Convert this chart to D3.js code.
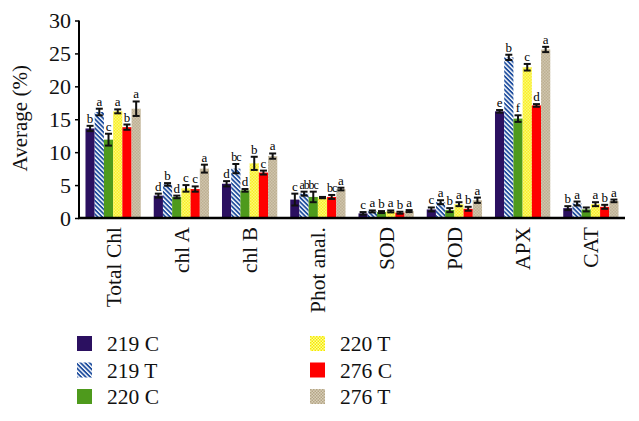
<!DOCTYPE html>
<html>
<head>
<meta charset="utf-8">
<script src="https://cdn.jsdelivr.net/npm/d3@7"></script>
<style>
  body { margin: 0; background: #fff; }
  svg { display: block; font-family: "Liberation Serif", "DejaVu Serif", serif; }
</style>
</head>
<body>
<svg id="chart" width="639" height="421"></svg>
<script>
const categories = ['Total Chl', 'chl A', 'chl B', 'Phot anal.', 'SOD', 'POD', 'APX', 'CAT'];
const seriesNames = ['219 C', '219 T', '220 C', '220 T', '276 C', '276 T'];

// mean values, one array per series, in category order
const v219C = [13.6, 3.4, 5.2, 2.8, 0.7, 1.3, 16.2, 1.5];
const v219T = [16.1, 5.1, 7.5, 3.7, 1.0, 2.4, 24.4, 2.2];
const v220C = [11.9, 3.2, 4.2, 3.2, 0.9, 1.2, 15.1, 1.3];
const v220T = [16.2, 4.5, 8.3, 3.1, 1.0, 2.1, 22.9, 2.1];
const v276C = [13.8, 4.4, 6.9, 3.2, 0.8, 1.4, 17.1, 1.7];
const v276T = [16.6, 7.5, 9.4, 4.4, 1.05, 2.7, 25.6, 2.6];

// error bar half-lengths
const e219C = [0.4, 0.3, 0.4, 0.9, 0.2, 0.3, 0.2, 0.3];
const e219T = [0.5, 0.2, 0.7, 0.3, 0.15, 0.3, 0.4, 0.3];
const e220C = [0.9, 0.2, 0.2, 0.8, 0.15, 0.3, 0.5, 0.3];
const e220T = [0.3, 0.5, 1.0, 0.1, 0.15, 0.3, 0.5, 0.3];
const e276C = [0.4, 0.4, 0.3, 0.3, 0.15, 0.3, 0.2, 0.3];
const e276T = [1.1, 0.6, 0.4, 0.2, 0.15, 0.4, 0.4, 0.2];

// significance letters
const l219C = ['b', 'd', 'd', 'c', 'c', 'c', 'e', 'b'];
const l219T = ['a', 'b', 'bc', 'ab', 'a', 'a', 'b', 'a'];
const l220C = ['c', 'd', 'd', 'bc', 'b', 'b', 'f', ''];
const l220T = ['a', 'c', 'b', '', 'a', 'a', 'c', 'a'];
const l276C = ['b', 'c', 'c', 'bc', 'b', 'b', 'd', 'b'];
const l276T = ['a', 'a', 'a', 'a', 'a', 'a', 'a', 'a'];

const yTicks = [0, 5, 10, 15, 20, 25, 30];

const values = [v219C, v219T, v220C, v220T, v276C, v276T];
const errors = [e219C, e219T, e220C, e220T, e276C, e276T];
const letters = [l219C, l219T, l220C, l220T, l276C, l276T];

const fills = ['#2b1060', 'url(#stripes)', '#4e9a1c', 'url(#yellowCheck)', '#ff0000', 'url(#beigeCheck)'];

const svg = d3.select('#chart');
const margin = { left: 79, right: 14, top: 20.5, bottom: 203 };
const width = 639 - margin.left - margin.right;
const height = 421 - margin.top - margin.bottom;

// patterns
const defs = svg.append('defs');
const stripes = defs.append('pattern')
    .attr('id', 'stripes')
    .attr('patternUnits', 'userSpaceOnUse')
    .attr('width', 3.2)
    .attr('height', 3.2)
    .attr('patternTransform', 'rotate(45)');
stripes.append('rect').attr('width', 3.2).attr('height', 3.2).attr('fill', '#fff');
stripes.append('rect').attr('width', 3.2).attr('height', 1.8).attr('fill', '#1f4e9e');

function checker(id, c1, c2) {
    const p = defs.append('pattern')
        .attr('id', id)
        .attr('patternUnits', 'userSpaceOnUse')
        .attr('width', 3)
        .attr('height', 3);
    p.append('rect').attr('width', 3).attr('height', 3).attr('fill', c2);
    p.append('rect').attr('width', 1.5).attr('height', 1.5).attr('fill', c1);
    p.append('rect').attr('x', 1.5).attr('y', 1.5).attr('width', 1.5).attr('height', 1.5).attr('fill', c1);
}
checker('yellowCheck', '#f5e800', '#ffff9a');
checker('beigeCheck', '#b3a585', '#d9cfba');

const g = svg.append('g').attr('transform', `translate(${margin.left},${margin.top})`);

const x0 = d3.scaleBand()
    .domain(categories)
    .range([0, width])
    .paddingInner(0.19)
    .paddingOuter(0.095);
const x1 = d3.scaleBand()
    .domain(seriesNames)
    .range([0, x0.bandwidth()]);
const y = d3.scaleLinear().domain([0, 30]).range([height, 0]);

const rows = [];
categories.forEach((c, ci) => {
    seriesNames.forEach((s, si) => {
        rows.push({ cat: c, series: s, si, v: values[si][ci], e: errors[si][ci], l: letters[si][ci] });
    });
});

// bars
g.append('g')
    .selectAll('rect')
    .data(rows)
    .join('rect')
    .attr('x', (d) => x0(d.cat) + x1(d.series))
    .attr('y', (d) => y(d.v))
    .attr('width', x1.bandwidth())
    .attr('height', (d) => height - y(d.v))
    .attr('fill', (d) => fills[d.si]);

// error bars
const eb = g.append('g')
    .attr('stroke', '#111')
    .attr('stroke-width', 2)
    .selectAll('g')
    .data(rows)
    .join('g')
    .attr('transform', (d) => `translate(${x0(d.cat) + x1(d.series) + x1.bandwidth() / 2},0)`);
eb.append('line')
    .attr('y1', (d) => y(d.v - d.e))
    .attr('y2', (d) => y(d.v + d.e));
eb.append('line')
    .attr('x1', -3.5).attr('x2', 3.5)
    .attr('y1', (d) => y(d.v + d.e))
    .attr('y2', (d) => y(d.v + d.e));
eb.append('line')
    .attr('x1', -3.5).attr('x2', 3.5)
    .attr('y1', (d) => y(d.v - d.e))
    .attr('y2', (d) => y(d.v - d.e));

// letters (two-letter groups squeezed so they fit over one bar)
g.append('g')
    .selectAll('text')
    .data(rows)
    .join('text')
    .attr('x', (d) => x0(d.cat) + x1(d.series) + x1.bandwidth() / 2)
    .attr('y', (d) => y(d.v + d.e) - 3)
    .attr('text-anchor', 'middle')
    .attr('font-size', (d) => (d.l.length > 1 ? '12px' : '13px'))
    .attr('letter-spacing', (d) => (d.l.length > 1 ? '-1px' : '0'))
    .attr('fill', '#000')
    .text((d) => d.l);

// y axis
const yAxis = g.append('g')
    .call(d3.axisLeft(y).tickValues(yTicks).tickSize(4).tickPadding(4));
yAxis.select('.domain').attr('stroke-width', 2).attr('d', `M0,${height + 1}V0`);
yAxis.selectAll('.tick line').attr('stroke-width', 1.5);
yAxis.selectAll('text').attr('font-size', '22px').attr('font-family', 'Liberation Serif').attr('fill', '#111');

// x axis
const xAxis = g.append('g')
    .attr('transform', `translate(0,${height})`)
    .call(d3.axisBottom(x0).tickSize(0).tickPadding(10));
xAxis.select('.domain').attr('stroke-width', 2.5).attr('d', `M-1,0H${width}`);
xAxis.selectAll('text')
    .attr('font-size', '21.5px')
    .attr('font-family', 'Liberation Serif')
    .attr('fill', '#111')
    .attr('text-anchor', 'end')
    .attr('transform', 'rotate(-90)')
    .attr('x', -9)
    .attr('y', 0)
    .attr('dy', '0.35em');

// y label
svg.append('text')
    .attr('transform', `translate(27,${margin.top + height / 2 - 1}) rotate(-90)`)
    .attr('text-anchor', 'middle')
    .attr('font-size', '21px')
    .attr('fill', '#111')
    .text('Average (%)');

// legend
const legendCols = [77, 310];
const legend = svg.append('g')
    .selectAll('g')
    .data(seriesNames)
    .join('g')
    .attr('transform', (d, i) => `translate(${legendCols[Math.floor(i / 3)]},${336 + (i % 3) * 26.5})`);
legend.append('rect')
    .attr('width', 15)
    .attr('height', 15)
    .attr('fill', (d, i) => fills[i]);
legend.append('text')
    .attr('x', 30)
    .attr('y', 7.5)
    .attr('dy', '0.35em')
    .attr('font-size', '21.5px')
    .attr('fill', '#111')
    .text((d) => d);
</script>
</body>
</html>
